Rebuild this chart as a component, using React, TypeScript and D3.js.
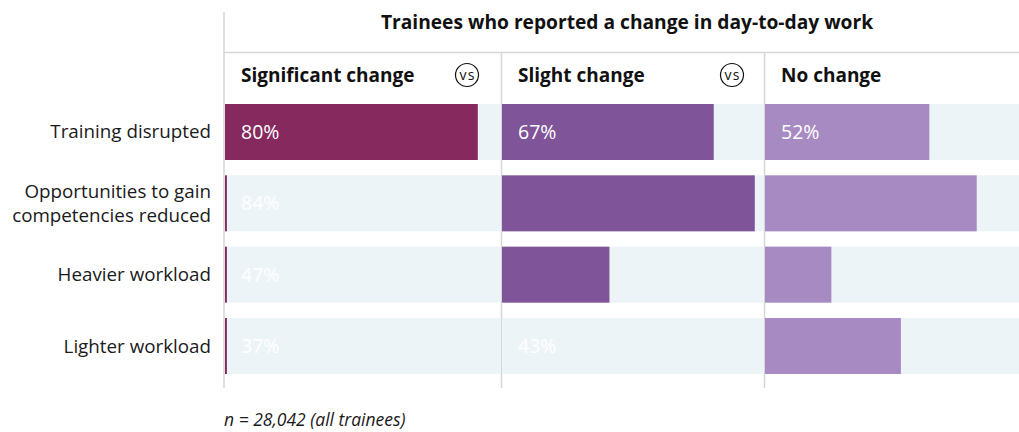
import React from "react";
import * as d3 from "d3";

const title = "Trainees who reported a change in day-to-day work";
const rowLabels: string[][] = [
  ["Training disrupted"],
  ["Opportunities to gain", "competencies reduced"],
  ["Heavier workload"],
  ["Lighter workload"],
];
const rowKeys = ["training", "opportunities", "heavier", "lighter"];
const columnNames = ["Significant change", "Slight change", "No change"];
const columnColors = ["#86295f", "#7f5499", "#a78ac2"];
// bar lengths as shown (percent)
const significantBars = [80, 0.6, 0.6, 0.6];
const slightBars = [67, 80, 34, 0];
const noChangeBars = [52, 67, 21, 43];
// value labels as shown ("" = no label)
const significantLabels = ["80%", "84%", "47%", "37%"];
const slightLabels = ["67%", "", "", "43%"];
const noChangeLabels = ["52%", "", "", ""];
const footnote = "n = 28,042 (all trainees)";

const W = 1019;
const H = 432;
const FONT = "'Open Sans', sans-serif";

export default function App() {
  const colStarts = [225, 502, 765];
  const colEnds = [501, 764, 1019];
  const dividers = [224, 501.5, 764.5];
  const x = d3.scaleLinear().domain([0, 100]).range([0, 316]);
  const y = d3
    .scaleBand<string>()
    .domain(rowKeys)
    .range([104, 374])
    .paddingInner(0.215)
    .paddingOuter(0);
  const bars = [significantBars, slightBars, noChangeBars];
  const labels = [significantLabels, slightLabels, noChangeLabels];
  const bw = y.bandwidth();

  return (
    <div style={{ position: "fixed", left: 0, top: 0 }}>
      <svg width={W} height={H} style={{ display: "block", fontFamily: FONT }}>
        <rect width={W} height={H} fill="#ffffff" />
        {/* title */}
        <text x={627} y={29} textAnchor="middle" fontSize={19.2} fontWeight={700} fill="#111">
          {title}
        </text>
        {/* lines */}
        <line x1={224} x2={224} y1={12} y2={388} stroke="#d6d6d6" strokeWidth={1.5} />
        <line x1={224} x2={W} y1={52.5} y2={52.5} stroke="#d6d6d6" strokeWidth={1.5} />
        {dividers.slice(1).map((dx, i) => (
          <line key={i} x1={dx} x2={dx} y1={52} y2={388} stroke="#d6d6d6" strokeWidth={1.5} />
        ))}
        {/* column headers */}
        {columnNames.map((c, i) => (
          <text key={c} x={colStarts[i] + 16} y={82} fontSize={19} fontWeight={700} fill="#111">
            {c}
          </text>
        ))}
        {[467, 732].map((cx, i) => (
          <g key={i}>
            <circle cx={cx} cy={75} r={11.5} fill="#fff" stroke="#111" strokeWidth={1.2} />
            <text x={cx + 0.6} y={79.8} textAnchor="middle" fontSize={14} fill="#111" letterSpacing={1.2}>
              vs
            </text>
          </g>
        ))}
        {/* rows */}
        {rowKeys.map((k, r) => {
          const y0 = y(k)!;
          const cy = y0 + bw / 2;
          return (
            <g key={k}>
              {rowLabels[r].map((line, li) => (
                <text
                  key={li}
                  x={211}
                  y={cy + 6.5 + (li - (rowLabels[r].length - 1) / 2) * 24}
                  textAnchor="end"
                  fontSize={18.8}
                  fill="#1a1a1a"
                >
                  {line}
                </text>
              ))}
              {columnNames.map((c, ci) => {
                const w = Math.min(x(bars[ci][r]), colEnds[ci] - colStarts[ci]);
                return (
                  <g key={c}>
                    <rect x={colStarts[ci]} y={y0} width={colEnds[ci] - colStarts[ci]} height={bw} fill="#edf4f8" />
                    {w > 0 && <rect x={colStarts[ci]} y={y0} width={w} height={bw} fill={columnColors[ci]} />}
                    {labels[ci][r] && (
                      <text x={colStarts[ci] + 16} y={cy + 7} fontSize={19.5} fill="#ffffff">
                        {labels[ci][r]}
                      </text>
                    )}
                  </g>
                );
              })}
            </g>
          );
        })}
        <text x={224} y={426} fontSize={17.5} fontStyle="italic" fill="#1a1a1a">
          {footnote}
        </text>
      </svg>
    </div>
  );
}
